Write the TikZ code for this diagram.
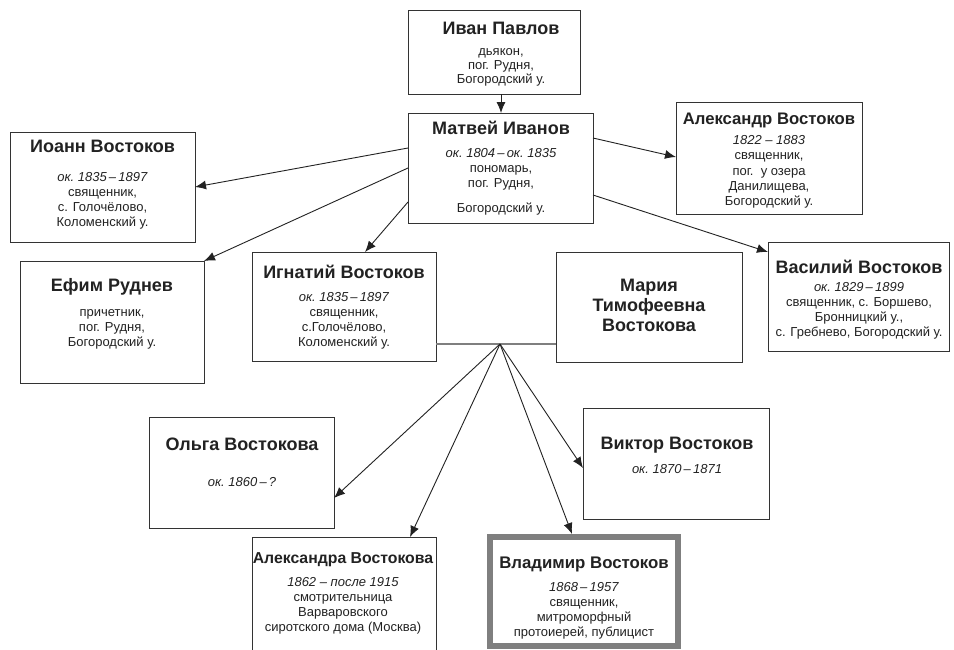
\documentclass[tikz,border=0pt]{standalone}
\usepackage{fontspec}
\setmainfont{Liberation Sans}
\usetikzlibrary{arrows.meta,calc}
\definecolor{ink}{HTML}{222222}
\definecolor{framecol}{HTML}{333333}
\definecolor{midgray}{HTML}{7F7F7F}
\newcommand\pbox[6][]{\node[pbox,#1,minimum width={#5pt-#3pt},minimum height={#6pt-#4pt}] (#2) at (#3,#4) {};}
\begin{document}
\begin{tikzpicture}[x=1pt,y=-1pt,
  pbox/.style={draw=framecol,line width=1pt,fill=white,inner sep=0pt,outer sep=0pt,anchor=north west},
  title/.style={font=\fontsize{18}{20}\selectfont\bfseries,text=ink,anchor=base,inner sep=0pt},
  body/.style={font=\fontsize{13}{15}\selectfont,text=ink,align=center,anchor=north,inner sep=0pt},
  arr/.style={draw=ink,line width=0.9pt,-{Latex[length=11pt,width=9pt]}},
  marriage/.style={draw=midgray,line width=1.4pt}]
\useasboundingbox (0,0) rectangle (954,649);
\fill[white] (0,0) rectangle (954,649);
% boxes
\pbox{ivan}{408}{10}{580}{94}
\pbox{matvei}{408}{113}{593}{223}
\pbox{ioann}{10}{132}{195}{242}
\pbox{alexandr}{676}{102}{862}{214}
\pbox{efim}{20}{261}{204}{383}
\pbox{ignatiy}{252}{252}{436}{361}
\pbox{maria}{556}{252}{742}{362}
\pbox{vasiliy}{768}{242}{949}{351}
\pbox{olga}{149}{417}{334}{528}
\pbox{viktor}{583}{408}{769}{519}
\pbox{alexandra}{252}{537}{436}{665}
\pbox[draw=midgray,line width=6pt]{vladimir}{490}{537}{678}{646}
% texts
\node[title] (t-ivan) at (501,34.5) {Иван Павлов};
\node[body,font=\fontsize{13}{14}\selectfont] (b-ivan) at (501,45) {\rule{0pt}{10pt}дьякон,\\пог. Рудня,\\Богородский у.};
\node[title] (t-matvei) at (501,134.5) {Матвей Иванов};
\node[body] (b-matvei) at (501,147.5) {\rule{0pt}{10pt}\textit{ок.~1804\,–\,ок.~1835}\\пономарь,\\пог. Рудня,\\[10pt]Богородский у.};
\node[title] (t-ioann) at (102.5,152.5) {Иоанн Востоков};
\node[body] (b-ioann) at (102.5,171.5) {\rule{0pt}{10pt}\textit{ок.~1835\,–\,1897}\\священник,\\с. Голочёлово,\\Коломенский у.};
\node[title,font=\fontsize{16.7}{20}\selectfont\bfseries] (t-alexandr) at (769,124.5) {Александр Востоков};
\node[body,font=\fontsize{13}{15.2}\selectfont] (b-alexandr) at (769,134.5) {\rule{0pt}{10pt}\textit{1822 – 1883}\\священник,\\пог.\ \ у озера\\Данилищева,\\Богородский у.};
\node[title] (t-efim) at (112,291.5) {Ефим Руднев};
\node[body] (b-efim) at (112,306) {\rule{0pt}{10pt}причетник,\\пог. Рудня,\\Богородский у.};
\node[title] (t-ignatiy) at (344,278) {Игнатий Востоков};
\node[body] (b-ignatiy) at (344,291) {\rule{0pt}{10pt}\textit{ок.~1835\,–\,1897}\\священник,\\с.Голочёлово,\\Коломенский у.};
\node[title,align=center,anchor=north] (t-maria) at (649,276) {\rule{0pt}{15.5pt}Мария\\Тимофеевна\\Востокова};
\node[title] (t-vasiliy) at (859,273) {Василий Востоков};
\node[body] (b-vasiliy) at (859,281) {\rule{0pt}{10pt}\textit{ок.~1829\,–\,1899}\\священник, с. Боршево,\\Бронницкий у.,\\с. Гребнево, Богородский у.};
\node[title] (t-olga) at (242,450) {Ольга Востокова};
\node[body] (b-olga) at (242,476) {\rule{0pt}{10pt}\textit{ок.~1860\,–\,?}};
\node[title] (t-viktor) at (677,449) {Виктор Востоков};
\node[body] (b-viktor) at (677,463) {\rule{0pt}{10pt}\textit{ок.~1870\,–\,1871}};
\node[title,font=\fontsize{15.8}{20}\selectfont\bfseries] (t-alexandra) at (343,563) {Александра Востокова};
\node[body] (b-alexandra) at (343,576) {\rule{0pt}{10pt}\textit{1862 – после 1915}\\смотрительница\\Варваровского\\сиротского дома (Москва)};
\node[title,font=\fontsize{16.8}{20}\selectfont\bfseries] (t-vladimir) at (584,568) {Владимир Востоков};
\node[body] (b-vladimir) at (584,581) {\rule{0pt}{10pt}\textit{1868\,–\,1957}\\священник,\\митроморфный\\протоиерей, публицист};
% connectors
\draw[arr] ($(ivan.south west)+(93,0)$) -- ($(matvei.north west)+(93,0)$);
\draw[arr] ($(matvei.north west)+(0,35)$) -- (ioann.east);
\draw[arr] ($(matvei.north west)+(0,55)$) -- (efim.north east);
\draw[arr] ($(matvei.north west)+(0,89)$) -- ($(ignatiy.north west)+(113,0)$);
\draw[arr] ($(matvei.north east)+(0,25)$) -- ($(alexandr.north west)+(0,55)$);
\draw[arr] ($(matvei.north east)+(0,82)$) -- ($(vasiliy.north west)+(0,10)$);
\draw[marriage] ($(ignatiy.south east)+(0,-17)$) -- ($(maria.south west)+(0,-18)$);
\coordinate (fan) at (500,344);
\draw[arr] (fan) -- ($(olga.south east)+(0,-30)$);
\draw[arr] (fan) -- ($(alexandra.north west)+(158,0)$);
\draw[arr] (fan) -- ($(vladimir.north west)+(82,-3)$);
\draw[arr] (fan) -- ($(viktor.north west)+(0,60)$);
\end{tikzpicture}
\end{document}
